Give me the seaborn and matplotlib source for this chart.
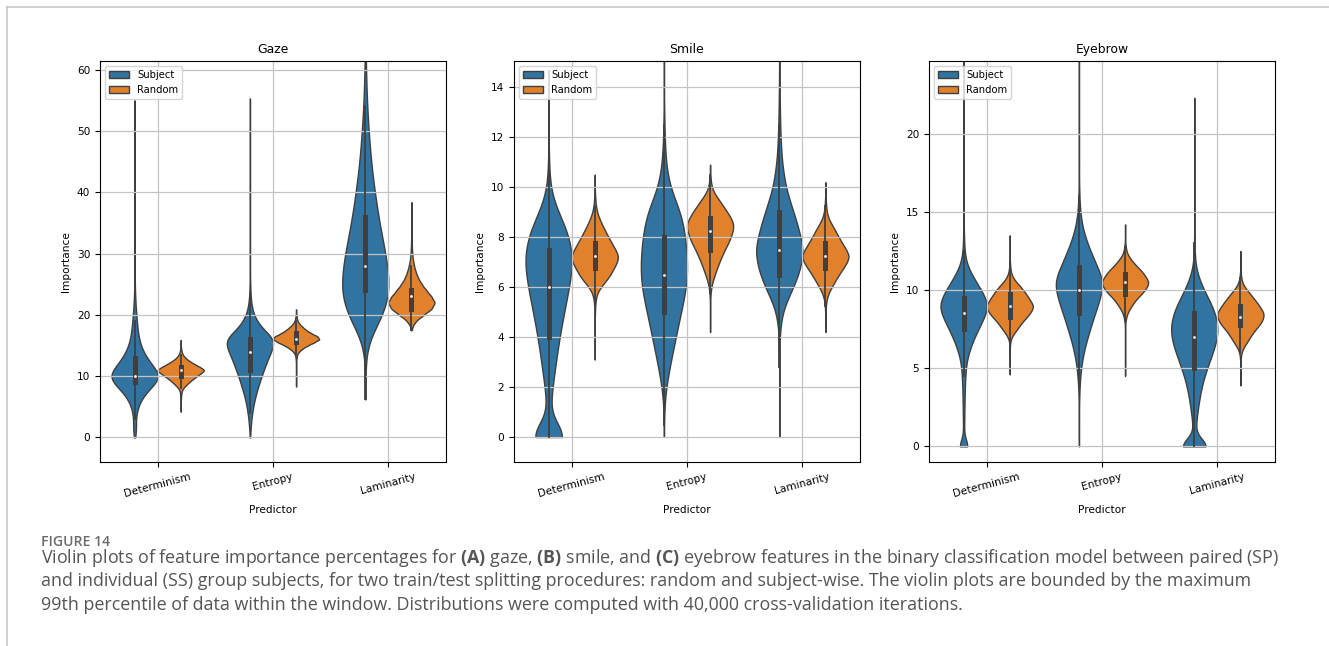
import numpy as np
import pandas as pd
import matplotlib
matplotlib.use("Agg")
import matplotlib.pyplot as plt
import seaborn as sns
from matplotlib.lines import Line2D

PREDICTORS = ["Determinism", "Entropy", "Laminarity"]
SPLITS = ["Subject", "Random"]

# Each violin is a list of (importance, weight): the weight
# is the violin width at that value in % of the widest point. A weight of 0.05
# stands for one single observation (the thin tail lines).

# ---- Gaze ----
gaze_det_subject = [(0, 2), (1, 6), (2, 6), (3, 5), (4, 8), (5, 14), (6, 24), (7, 40), (8, 62),
                    (9, 87), (10, 100), (11, 87), (12, 67), (13, 49), (14, 35), (15, 25), (16, 18),
                    (17, 14), (18, 11), (19, 9), (20, 7), (21, 5), (22, 3.5), (23, 2.5), (24, 1.5),
                    (25, 1), (26, 0.6), (28, 0.05), (31, 0.05), (34, 0.05), (37, 0.05), (40, 0.05),
                    (43, 0.05), (46, 0.05), (49, 0.05), (52, 0.05), (55, 0.05)]
gaze_det_random = [(4.2, 0.05), (5.0, 0.05), (5.7, 0.05), (6.5, 1), (7.0, 2), (7.5, 3.5), (8.0, 9),
                   (8.5, 21), (9.0, 34), (9.5, 49), (10.0, 66), (10.5, 84), (11.0, 100), (11.5, 78),
                   (12.0, 55), (12.5, 34), (13.0, 18), (13.5, 8), (14.0, 3.5), (14.5, 1.5),
                   (15.2, 0.05), (15.6, 0.05), (15.9, 0.05)]
gaze_ent_subject = [(0, 0.6), (1, 2), (2, 3.5), (3, 6), (4, 9), (5, 13), (6, 18), (7, 24), (8, 31),
                    (9, 39), (10, 47), (11, 56), (12, 65), (13, 75), (14, 86), (15, 96), (16, 100),
                    (17, 72), (18, 46), (19, 28), (20, 16), (21, 9), (22, 5), (23, 3), (24, 2),
                    (25, 1.2), (26, 0.7), (28, 0.05), (31, 0.05), (34, 0.05), (37, 0.05), (40, 0.05),
                    (43, 0.05), (46, 0.05), (49, 0.05), (52, 0.05), (55.3, 0.05)]
gaze_ent_random = [(8.3, 0.05), (9.3, 0.05), (10.3, 0.05), (11.3, 0.05), (12.0, 0.05), (12.5, 1),
                   (13.0, 2), (13.5, 4), (14.0, 12), (14.5, 27), (15.0, 48), (15.5, 74), (16.0, 98),
                   (16.5, 88), (17.0, 62), (17.5, 42), (18.0, 27), (18.5, 14), (19.0, 6), (19.5, 3),
                   (20.0, 1.5), (20.5, 0.05), (20.9, 0.05)]
gaze_lam_subject = [(6.2, 0.05), (7.5, 0.05), (8.7, 0.05), (10, 1), (12, 2), (14, 5), (16, 17),
                    (18, 45), (20, 73), (22, 91), (24, 100), (26, 98), (28, 92), (30, 84), (32, 74),
                    (34, 64), (36, 55), (38, 47), (40, 40), (42, 33), (44, 27), (46, 22), (48, 18),
                    (50, 14), (52, 11), (54, 8), (56, 6), (58, 4.5), (60, 3.2), (62, 2.2), (64, 1.5),
                    (66, 0.05), (69, 0.05), (72, 0.05)]
gaze_lam_random = [(17.5, 0.05), (18, 3), (19, 18), (20, 52), (21, 86), (22, 100), (23, 84),
                   (24, 63), (25, 43), (26, 28), (27, 18), (28, 11), (29, 6), (30, 3.5), (31, 2),
                   (32, 1.2), (33.5, 0.05), (35, 0.05), (36.5, 0.05), (38.4, 0.05)]

# ---- Smile ----
smile_det_subject = [(0, 148), (0.5, 4), (1.0, 6), (1.5, 10), (2.0, 16), (2.5, 23), (3.0, 30),
                     (3.5, 37), (4.0, 45), (4.5, 54), (5.0, 64), (5.5, 74), (6.0, 84), (6.5, 93),
                     (7.0, 100), (7.5, 96), (8.0, 85), (8.5, 66), (9.0, 40), (9.5, 17), (10.0, 7),
                     (10.5, 3.5), (11.0, 1.8), (11.5, 1), (12.3, 0.05), (13.1, 0.05), (13.9, 0.05),
                     (14.7, 0.05)]
smile_det_random = [(3.1, 0.05), (3.7, 0.05), (4.3, 0.05), (4.8, 0.05), (5.0, 1), (5.25, 2),
                    (5.5, 4), (5.75, 10), (6.0, 25), (6.25, 47), (6.5, 66), (6.75, 80), (7.0, 94),
                    (7.25, 100), (7.5, 87), (7.75, 72), (8.0, 58), (8.25, 44), (8.5, 31), (8.75, 19),
                    (9.0, 10), (9.25, 5), (9.5, 2.5), (9.75, 1.2), (10.1, 0.05), (10.5, 0.05)]
smile_ent_subject = [(0, 0.05), (0.25, 0.05), (0.5, 0.6), (1.0, 1.5), (1.5, 4), (2.0, 10),
                     (2.5, 19), (3.0, 29), (3.5, 40), (4.0, 51), (4.5, 62), (5.0, 74), (5.5, 85),
                     (6.0, 95), (6.5, 100), (7.0, 100), (7.5, 97), (8.0, 91), (8.5, 83), (9.0, 70),
                     (9.5, 48), (10.0, 28), (10.5, 16), (11.0, 9), (11.5, 5.5), (12.0, 3.5),
                     (12.5, 2), (13.0, 1.2), (13.5, 0.7), (14.2, 0.05), (15.0, 0.05), (15.8, 0.05),
                     (16.5, 0.05)]
smile_ent_random = [(4.2, 0.05), (4.7, 0.05), (5.2, 0.05), (5.5, 1), (5.75, 2), (6.0, 5),
                    (6.25, 11), (6.5, 20), (6.75, 29), (7.0, 39), (7.25, 50), (7.5, 62), (7.75, 76),
                    (8.0, 87), (8.25, 96), (8.5, 100), (8.75, 89), (9.0, 73), (9.25, 55), (9.5, 37),
                    (9.75, 18), (10.0, 7), (10.25, 3), (10.5, 1.2), (10.9, 0.05)]
smile_lam_subject = [(0, 0.05), (0.7, 0.05), (1.4, 0.05), (2.1, 0.05), (2.8, 0.05), (3.5, 1),
                     (4.0, 2), (4.5, 6), (5.0, 15), (5.5, 34), (6.0, 59), (6.5, 80), (7.0, 94),
                     (7.5, 100), (8.0, 90), (8.5, 76), (9.0, 60), (9.5, 43), (10.0, 28), (10.5, 19),
                     (11.0, 12), (11.5, 8), (12.0, 5.5), (12.5, 4), (13.0, 2.8), (13.5, 2),
                     (14.0, 1.3), (14.5, 0.8), (15.0, 0.5), (15.6, 0.05), (16.3, 0.05)]
smile_lam_random = [(4.2, 0.05), (4.6, 0.05), (5.0, 1), (5.25, 2), (5.5, 5), (5.75, 13), (6.0, 26),
                    (6.25, 41), (6.5, 57), (6.75, 74), (7.0, 91), (7.25, 100), (7.5, 87),
                    (7.75, 71), (8.0, 56), (8.25, 42), (8.5, 27), (8.75, 13), (9.0, 6), (9.25, 3),
                    (9.5, 1.5), (9.8, 0.05), (10.2, 0.05)]

# ---- Eyebrow ----
eyebrow_det_subject = [(0, 30), (0.5, 2), (1.0, 2), (1.5, 2.5), (2.0, 3), (2.5, 3.5), (3.0, 4),
                       (3.5, 4.5), (4.0, 5.5), (4.5, 7), (5.0, 9), (5.5, 13), (6.0, 21), (6.5, 32),
                       (7.0, 45), (7.5, 60), (8.0, 76), (8.5, 91), (9.0, 100), (9.5, 89),
                       (10.0, 72), (10.5, 52), (11.0, 33), (11.5, 17), (12.0, 8), (12.5, 4),
                       (13.0, 2.5), (13.5, 1.5), (14.0, 0.8), (15.0, 0.05), (16.5, 0.05),
                       (18.0, 0.05), (19.5, 0.05), (21.0, 0.05), (22.5, 0.05), (24.0, 0.05),
                       (25.5, 0.05)]
eyebrow_det_random = [(4.6, 0.05), (5.3, 0.05), (6.0, 0.05), (6.5, 1), (6.75, 3), (7.0, 9),
                      (7.25, 19), (7.5, 32), (7.75, 43), (8.0, 56), (8.25, 71), (8.5, 85),
                      (8.75, 95), (9.0, 100), (9.25, 90), (9.5, 80), (9.75, 69), (10.0, 57),
                      (10.25, 44), (10.5, 28), (10.75, 16), (11.0, 8), (11.25, 4), (11.5, 2),
                      (11.75, 1), (12.3, 0.05), (12.9, 0.05), (13.5, 0.05)]
eyebrow_ent_subject = [(0, 0.05), (0.6, 0.05), (1.2, 0.05), (1.8, 0.05), (2.5, 0.6), (3.0, 1.2),
                       (3.5, 2), (4.0, 3.5), (4.5, 6), (5.0, 9), (5.5, 14), (6.0, 20), (6.5, 28),
                       (7.0, 37), (7.5, 47), (8.0, 57), (8.5, 68), (9.0, 79), (9.5, 89), (10.0, 97),
                       (10.5, 100), (11.0, 91), (11.5, 77), (12.0, 63), (12.5, 49), (13.0, 36),
                       (13.5, 25), (14.0, 16), (14.5, 10), (15.0, 6), (15.5, 3.5), (16.0, 2),
                       (16.5, 1.2), (17.0, 0.7), (18.0, 0.05), (19.5, 0.05), (21.0, 0.05),
                       (22.5, 0.05), (24.0, 0.05), (25.5, 0.05)]
eyebrow_ent_random = [(4.5, 0.05), (5.3, 0.05), (6.1, 0.05), (6.9, 0.05), (7.75, 1), (8.0, 2),
                      (8.25, 5), (8.5, 10), (8.75, 18), (9.0, 28), (9.25, 40), (9.5, 53),
                      (9.75, 70), (10.0, 84), (10.25, 95), (10.5, 100), (10.75, 92), (11.0, 81),
                      (11.25, 68), (11.5, 51), (11.75, 36), (12.0, 23), (12.25, 12), (12.5, 6),
                      (12.75, 3), (13.0, 1.5), (13.6, 0.05), (14.2, 0.05)]
eyebrow_lam_subject = [(0, 115), (0.5, 3), (1.0, 5), (1.5, 8), (2.0, 12), (2.5, 16), (3.0, 21),
                       (3.5, 27), (4.0, 34), (4.5, 43), (5.0, 54), (5.5, 66), (6.0, 78), (6.5, 89),
                       (7.0, 97), (7.5, 100), (8.0, 97), (8.5, 88), (9.0, 75), (9.5, 58),
                       (10.0, 41), (10.5, 26), (11.0, 14), (11.5, 6.5), (12.0, 3), (12.5, 1.8),
                       (13.0, 1), (13.8, 0.05), (15.0, 0.05), (16.5, 0.05), (18.0, 0.05),
                       (19.5, 0.05), (21.0, 0.05), (22.3, 0.05)]
eyebrow_lam_random = [(3.9, 0.05), (4.5, 0.05), (5.1, 0.05), (5.5, 1), (5.75, 2), (6.0, 5),
                      (6.25, 11), (6.5, 21), (6.75, 32), (7.0, 42), (7.25, 53), (7.5, 66),
                      (7.75, 80), (8.0, 92), (8.25, 98), (8.5, 100), (8.75, 91), (9.0, 80),
                      (9.25, 68), (9.5, 55), (9.75, 42), (10.0, 28), (10.25, 16), (10.5, 8),
                      (10.75, 4), (11.0, 2), (11.25, 1), (11.8, 0.05), (12.5, 0.05)]

SCALE = 20  # observations per weight unit

CAPTION = [
    r"Violin plots of feature importance percentages for $\mathbf{(A)}$ gaze, $\mathbf{(B)}$ smile, "
    r"and $\mathbf{(C)}$ eyebrow features in the binary classification model between paired (SP)",
    "and individual (SS) group subjects, for two train/test splitting procedures: random and "
    "subject-wise. The violin plots are bounded by the maximum",
    "99th percentile of data within the window. Distributions were computed with 40,000 "
    "cross-validation iterations.",
]


def expand(pairs):
    """Turns (value, weight) pairs into repeated observations."""
    values = np.array([p[0] for p in pairs], dtype=float)
    counts = np.array([max(1, int(round(p[1] * SCALE))) for p in pairs])
    return np.repeat(values, counts)


def panel_frame(violins):
    frames = []
    for (pred, split), pairs in violins.items():
        frames.append(pd.DataFrame({"Predictor": pred, "Split": split,
                                    "Importance": expand(pairs)}))
    return pd.concat(frames, ignore_index=True)


panels = [
    ("Gaze", 0.22, (-4.0, 61.4), {
        ("Determinism", "Subject"): gaze_det_subject, ("Determinism", "Random"): gaze_det_random,
        ("Entropy", "Subject"): gaze_ent_subject, ("Entropy", "Random"): gaze_ent_random,
        ("Laminarity", "Subject"): gaze_lam_subject, ("Laminarity", "Random"): gaze_lam_random}),
    ("Smile", 0.2, (-1.0, 15.05), {
        ("Determinism", "Subject"): smile_det_subject, ("Determinism", "Random"): smile_det_random,
        ("Entropy", "Subject"): smile_ent_subject, ("Entropy", "Random"): smile_ent_random,
        ("Laminarity", "Subject"): smile_lam_subject, ("Laminarity", "Random"): smile_lam_random}),
    ("Eyebrow", 0.17, (-1.0, 24.65), {
        ("Determinism", "Subject"): eyebrow_det_subject, ("Determinism", "Random"): eyebrow_det_random,
        ("Entropy", "Subject"): eyebrow_ent_subject, ("Entropy", "Random"): eyebrow_ent_random,
        ("Laminarity", "Subject"): eyebrow_lam_subject, ("Laminarity", "Random"): eyebrow_lam_random}),
]

plt.rcParams.update({
    "font.size": 7.6,
    "axes.titlesize": 8.9,
    "legend.fontsize": 7.2,
    "mathtext.fontset": "custom",
    "mathtext.rm": "Open Sans",
    "mathtext.bf": "Open Sans:bold",
})

W, H = 1329, 646
fig = plt.figure(figsize=(W / 100, H / 100), dpi=100)

lefts = [100, 514, 929]
for left, (title, bw, ylim, violins) in zip(lefts, panels):
    ax = fig.add_axes([left / W, 1 - 462 / H, 346 / W, 401 / H])
    df = panel_frame(violins)
    sns.violinplot(data=df, x="Predictor", y="Importance", hue="Split",
                   order=PREDICTORS, hue_order=SPLITS, density_norm="width", cut=0,
                   bw_method=bw, gridsize=400, linewidth=1.0, inner="box",
                   inner_kws={"box_width": 3.6, "whis_width": 1.3, "marker": "o"}, ax=ax)
    # small white median dots
    for line in ax.lines:
        if line.get_marker() == "o":
            line.set_markersize(2.0)
            line.set_markeredgewidth(0)
    ax.set_ylim(*ylim)
    ax.set_title(title)
    ax.set_xlabel("Predictor")
    ax.set_ylabel("Importance")
    ax.grid(True, color="#c4c4c4", linewidth=0.9)
    ax.tick_params(axis="x", labelrotation=15)
    sns.move_legend(ax, "upper left", title=None)

# page frame of the figure panel
fig.add_artist(Line2D([7 / W, 7 / W], [0, 1 - 6.5 / H], transform=fig.transFigure,
                      color="#c4c4c4", linewidth=1.1))
fig.add_artist(Line2D([7 / W, 1], [1 - 6.5 / H, 1 - 6.5 / H], transform=fig.transFigure,
                      color="#c4c4c4", linewidth=1.1))

fig.text(41 / W, 1 - 545.5 / H, "FIGURE 14", family="Open Sans", weight="semibold",
         fontsize=10.1, color="#6a6a6a", va="baseline")
for i, line in enumerate(CAPTION):
    fig.text(41 / W, 1 - (563 + 23.3 * i) / H, line, family="Open Sans", fontsize=12.9,
             color="#555555", va="baseline")

fig.savefig("out.png", dpi=100)
